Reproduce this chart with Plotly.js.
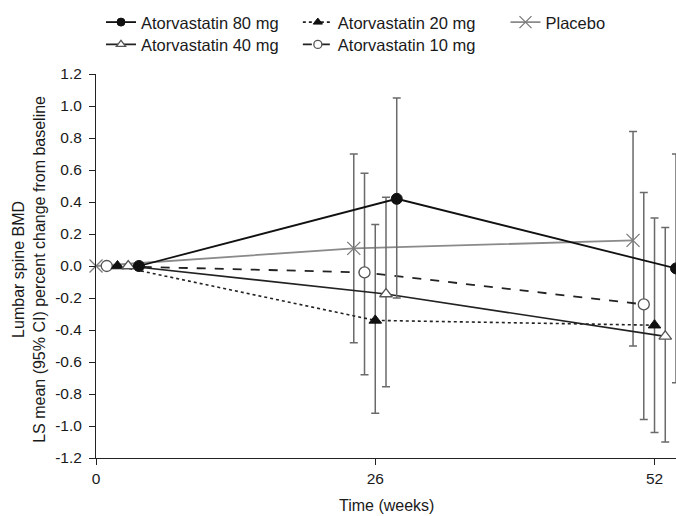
<!DOCTYPE html>
<html>
<head>
<meta charset="utf-8">
<script src="https://cdn.plot.ly/plotly-3.0.1.min.js"></script>
<style>html,body{margin:0;padding:0;background:#fff;}#chart{width:676px;height:516px;}</style>
</head>
<body>
<div id="chart"></div>
<script>
// Data (x = weeks, slightly offset per group)
const seriesNames = ["Atorvastatin 80 mg", "Atorvastatin 40 mg", "Atorvastatin 20 mg", "Atorvastatin 10 mg", "Placebo"];

const weeks80 = [4, 28, 54];
const mean80 = [0, 0.42, -0.015];
const upper80 = [null, 1.05, 0.70];
const lower80 = [null, -0.20, -0.73];

const weeks40 = [3, 27, 53];
const mean40 = [0, -0.175, -0.44];
const upper40 = [null, 0.43, 0.24];
const lower40 = [null, -0.755, -1.10];

const weeks20 = [2, 26, 52];
const mean20 = [0, -0.34, -0.37];
const upper20 = [null, 0.26, 0.30];
const lower20 = [null, -0.92, -1.04];

const weeks10 = [1, 25, 51];
const mean10 = [0, -0.04, -0.24];
const upper10 = [null, 0.58, 0.46];
const lower10 = [null, -0.68, -0.96];

const weeksPl = [0, 24, 50];
const meanPl = [0, 0.11, 0.16];
const upperPl = [null, 0.70, 0.84];
const lowerPl = [null, -0.48, -0.50];

const xTickVals = [0, 26, 52];
const xTickText = ["0", "26", "52"];
const yTickVals = [-1.2, -1.0, -0.8, -0.6, -0.4, -0.2, 0, 0.2, 0.4, 0.6, 0.8, 1.0, 1.2];
const yTickText = yTickVals.map(v => v.toFixed(1));

const xTitle = "Time (weeks)";
const yTitle = "Lumbar spine BMD<br>LS mean (95% CI) percent change from baseline";

const FONT = "Liberation Sans, Arial, Helvetica, sans-serif";
const TXT = "#1a1a1a";
const ERRC = "#6a6a6a";

function errs(mean, up, lo) {
  return {
    type: "data", symmetric: false,
    array: mean.map((m, i) => up[i] == null ? NaN : up[i] - m),
    arrayminus: mean.map((m, i) => lo[i] == null ? NaN : m - lo[i]),
    color: ERRC, thickness: 1.5, width: 4
  };
}

const styles = {
  "Atorvastatin 80 mg": {line: {color: "#111", width: 1.8, dash: "solid"}, marker: {symbol: "circle", color: "#111", size: 11, line: {color: "#111", width: 1}}},
  "Atorvastatin 40 mg": {line: {color: "#222", width: 1.6, dash: "solid"}, marker: {symbol: "triangle-up", color: "#fff", size: 11, line: {color: "#555", width: 1.3}}},
  "Atorvastatin 20 mg": {line: {color: "#222", width: 1.6, dash: "dot"}, marker: {symbol: "triangle-up", color: "#111", size: 11, line: {color: "#111", width: 1}}},
  "Atorvastatin 10 mg": {line: {color: "#222", width: 1.8, dash: "dash"}, marker: {symbol: "circle", color: "#fff", size: 11, line: {color: "#555", width: 1.3}}},
  "Placebo": {line: {color: "#8a8a8a", width: 1.8, dash: "solid"}, marker: {symbol: "x-thin-open", color: "#7a7a7a", size: 13, line: {color: "#7a7a7a", width: 1.3}}}
};

const dataSets = [
  ["Atorvastatin 80 mg", weeks80, mean80, upper80, lower80, "legend"],
  ["Atorvastatin 40 mg", weeks40, mean40, upper40, lower40, "legend4"],
  ["Atorvastatin 20 mg", weeks20, mean20, upper20, lower20, "legend2"],
  ["Atorvastatin 10 mg", weeks10, mean10, upper10, lower10, "legend5"],
  ["Placebo", weeksPl, meanPl, upperPl, lowerPl, "legend3"]
];

const traces = [];
// draw order: placebo first (under), 80 mg last
[4, 3, 2, 1, 0].forEach(k => {
  const [name, x, y, up, lo] = dataSets[k];
  const s = styles[name];
  traces.push({
    type: "scatter", mode: "lines+markers", name: name, x: x, y: y,
    line: s.line, marker: s.marker, error_y: errs(y, up, lo),
    showlegend: false, cliponaxis: false, hoverinfo: "x+y+name"
  });
});
// legend entries (smaller legend markers)
dataSets.forEach(([name, , , , , lg]) => {
  const s = styles[name];
  traces.push({
    type: "scatter", mode: "lines+markers", name: name, x: [null], y: [null],
    line: Object.assign({}, s.line, {width: Math.max(1.4, s.line.width)}),
    marker: Object.assign({}, s.marker, {size: name === "Placebo" ? 12 : 8}),
    showlegend: true, legend: lg
  });
});

const legendBase = {
  orientation: "v", yanchor: "top", xanchor: "left",
  font: {family: FONT, size: 16.5, color: TXT},
  bgcolor: "rgba(0,0,0,0)", borderwidth: 0, itemclick: false, itemdoubleclick: false,
  tracegroupgap: 0, itemsizing: "trace"
};
const row1 = 1.180, row2 = 1.122;
const col1 = 0.0086, col2 = 0.348, col3 = 0.706;

const layout = {
  width: 676, height: 516,
  margin: {l: 96, r: 0, t: 74, b: 58, pad: 0},
  paper_bgcolor: "#fff", plot_bgcolor: "#fff",
  font: {family: FONT, color: TXT, size: 15.5},
  showlegend: true,
  legend: Object.assign({}, legendBase, {x: col1, y: row1}),
  legend2: Object.assign({}, legendBase, {x: col2, y: row1}),
  legend3: Object.assign({}, legendBase, {x: col3, y: row1}),
  legend4: Object.assign({}, legendBase, {x: col1, y: row2}),
  legend5: Object.assign({}, legendBase, {x: col2, y: row2}),
  xaxis: {
    range: [0, 54], showgrid: false, zeroline: false,
    showline: true, linecolor: "#222", linewidth: 1,
    ticks: "outside", ticklen: 6, tickcolor: "#222", tickwidth: 1,
    tickvals: xTickVals, ticktext: xTickText,
    tickfont: {family: FONT, size: 15.5, color: TXT}
  },
  yaxis: {
    range: [-1.2, 1.2], showgrid: false, zeroline: false,
    showline: true, linecolor: "#222", linewidth: 1,
    ticks: "outside", ticklen: 6, tickcolor: "#222", tickwidth: 1,
    tickvals: yTickVals, ticktext: yTickText, ticklabelstandoff: 4,
    tickfont: {family: FONT, size: 15.5, color: TXT}
  },
  annotations: [
    {text: xTitle, xref: "paper", yref: "paper", x: 0.5, y: -0.1224, xanchor: "center", yanchor: "middle",
     showarrow: false, font: {family: FONT, size: 16, color: TXT}},
    {text: yTitle, xref: "paper", yref: "paper", x: -0.1155, y: 0.49, xanchor: "center", yanchor: "middle",
     textangle: -90, showarrow: false, font: {family: FONT, size: 16, color: TXT}}
  ]
};

Plotly.newPlot("chart", traces, layout, {displayModeBar: false, staticPlot: true});
</script>
</body>
</html>
